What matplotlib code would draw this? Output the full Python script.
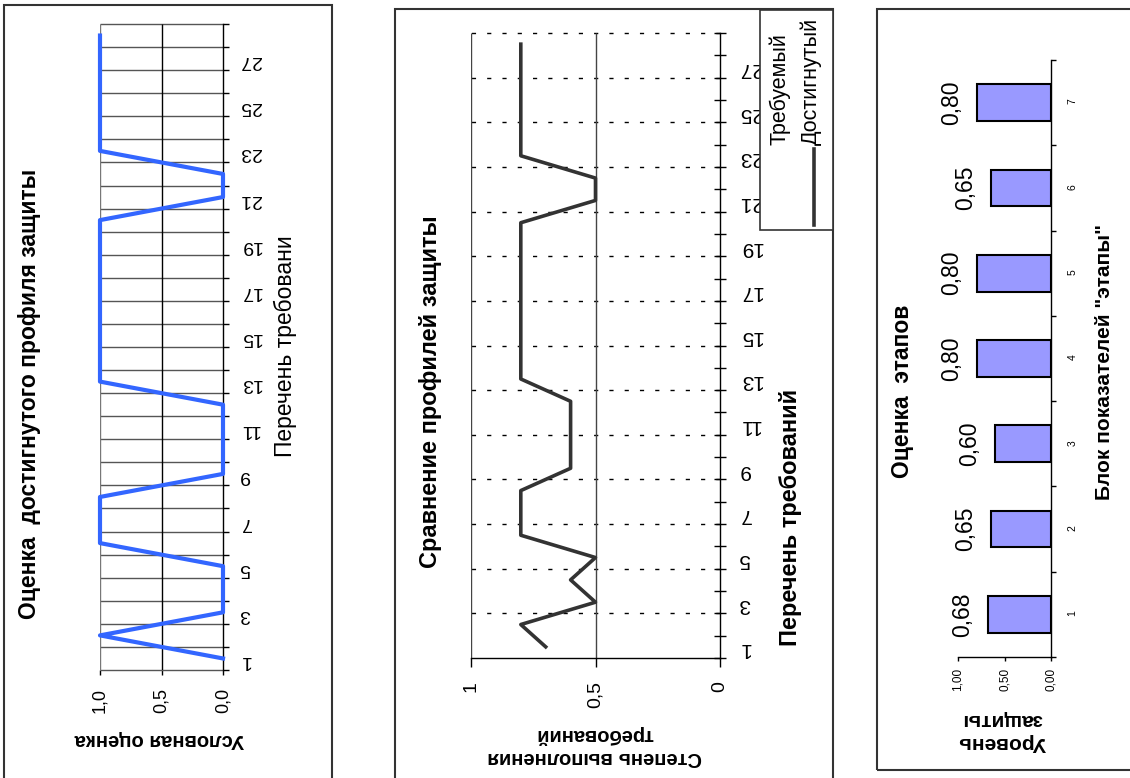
import numpy as np
import matplotlib.pyplot as plt
from matplotlib.patches import Rectangle
from matplotlib.lines import Line2D

plt.rcParams["font.family"] = ["Liberation Sans", "DejaVu Sans"]

W, H = 1130, 778

# ── Data ──────────────────────────────────────────────────────────────────
# chart 1: achieved profile, 0/1 per requirement
req_items = list(range(1, 29))
achieved_score = [0, 1, 0, 0, 0, 1, 1, 1, 0, 0, 0, 0, 1, 1,
                  1, 1, 1, 1, 1, 1, 0, 0, 1, 1, 1, 1, 1, 1]
score_ticks = [1.0, 0.5, 0.0]
score_labels = ["1,0", "0,5", "0,0"]

# chart 2: degree of fulfilment of requirements
fulfil_degree = [0.7, 0.8, 0.5, 0.6, 0.5, 0.8, 0.8, 0.8, 0.6, 0.6, 0.6, 0.6, 0.8, 0.8,
                 0.8, 0.8, 0.8, 0.8, 0.8, 0.8, 0.5, 0.5, 0.8, 0.8, 0.8, 0.8, 0.8, 0.8]
degree_ticks = [1.0, 0.5, 0.0]
degree_labels = ["1", "0,5", "0"]
legend_names = ["Требуемый", "Достигнутый"]

# chart 3: stage assessment
stages = [1, 2, 3, 4, 5, 6, 7]
stage_level = [0.68, 0.65, 0.60, 0.80, 0.80, 0.65, 0.80]
level_ticks = [1.0, 0.5, 0.0]
level_labels = ["1,00", "0,50", "0,00"]

BLUE = "#3366FF"
DARK = "#333333"
BAR = "#9999FF"


def fx(px):
    return px / W


def fy(py):
    return 1 - py / H


def box(left, top, right, bottom):
    return [fx(left), fy(bottom), (right - left) / W, (bottom - top) / H]


def frame(left, top, right, bottom):
    fig.add_artist(Rectangle((fx(left), fy(bottom)), (right - left) / W, (bottom - top) / H,
                             transform=fig.transFigure, fill=False, lw=1.5, ec=DARK))


def category_axis(ax, items, every, size, pad, tick_len, tick_dir, rot=180):
    n = len(items)
    ax.set_ylim(0.5, n + 0.5)
    ax.set_yticks(np.arange(0.5, n + 1, 1))
    ax.set_yticks(items[::every], [str(i) for i in items[::every]], minor=True)
    ax.tick_params(axis="y", which="both", left=False, labelleft=False,
                   right=True, labelright=True)
    ax.tick_params(axis="y", which="major", length=tick_len, direction=tick_dir,
                   width=1, labelright=False)
    ax.tick_params(axis="y", which="minor", length=0, pad=pad,
                   labelsize=size, labelrotation=rot)


def value_axis(ax, ticks, labels, size, pad, tick_len):
    ax.set_xlim(1, 0)
    ax.set_xticks(ticks, labels)
    ax.tick_params(axis="x", length=tick_len, direction="out", width=1, pad=pad,
                   labelsize=size, labelrotation=90)


fig = plt.figure(figsize=(W / 100, H / 100), dpi=100)

# ── Chart 1 ───────────────────────────────────────────────────────────────
frame(4, 5, 332, 800)
ax1 = fig.add_axes(box(100, 24, 223, 670))
for s in ["left", "top", "bottom"]:
    ax1.spines[s].set_visible(False)
ax1.spines["right"].set_linewidth(1)
category_axis(ax1, req_items, 2, 14, 12, 4.3, "out")
value_axis(ax1, score_ticks, score_labels, 13, 9.5, 3.6)
ax1.hlines(np.arange(0.5, len(req_items) + 1, 1), 0, 1, color="#555555", lw=1, clip_on=False)
ax1.vlines(score_ticks[:2], 0.5, len(req_items) + 0.5, colors=["#777777", "black"], lw=1)
ax1.plot(achieved_score, req_items, color=BLUE, lw=3, clip_on=False, zorder=3)

fig.text(fx(30), fy(394), "Оценка  достигнутого профиля защиты", rotation=90,
         ha="center", va="center", fontsize=16.5, fontweight="bold")
fig.text(fx(285), fy(346), "Перечень требовани", rotation=90,
         ha="center", va="center", fontsize=16.5)
fig.text(fx(159), fy(740), "Условная оценка", rotation=180,
         ha="center", va="center", fontsize=14.5, fontweight="bold")

# ── Chart 2 ───────────────────────────────────────────────────────────────
frame(395, 9, 833, 800)
ax2 = fig.add_axes(box(471, 33, 720, 658))
for s in ["left", "top"]:
    ax2.spines[s].set_visible(False)
ax2.spines["right"].set_linewidth(1)
ax2.spines["bottom"].set_linewidth(1)
category_axis(ax2, req_items, 2, 15, 13.5, 8.6, "inout")
value_axis(ax2, degree_ticks, degree_labels, 14, 10, 6.5)
ax2.hlines(np.arange(2.5, len(req_items) + 1, 2), 0, 1, color="black", lw=1,
           linestyles=(0, (3, 8)), clip_on=False)
ax2.vlines(degree_ticks[:2], 0.5, len(req_items) + 0.5, color="#444444", lw=1)
ax2.plot(fulfil_degree, req_items, color=DARK, lw=2.6, zorder=3)

fig.text(fx(430), fy(392), "Сравнение профилей защиты", rotation=90,
         ha="center", va="center", fontsize=17, fontweight="bold")
fig.text(fx(791), fy(517), "Перечень требований", rotation=90,
         ha="center", va="center", fontsize=17, fontweight="bold")
fig.text(fx(595), fy(746), "Степень выполнения\nтребований", rotation=180,
         ha="center", va="center", fontsize=14.5, fontweight="bold", linespacing=1.3)

# legend box drawn over the tick labels
fig.add_artist(Rectangle((fx(760), fy(230)), 73 / W, 220 / H, transform=fig.transFigure,
                         fc="white", ec=DARK, lw=1.2, zorder=5))
fig.text(fx(780), fy(145), legend_names[0], rotation=90, ha="center", va="bottom",
         fontsize=15.5, zorder=6)
fig.text(fx(811), fy(145), legend_names[1], rotation=90, ha="center", va="bottom",
         fontsize=15.5, zorder=6)
fig.add_artist(Line2D([fx(814), fx(814)], [fy(149), fy(225)], transform=fig.transFigure,
                      color=DARK, lw=2.6, zorder=6))

# ── Chart 3 ───────────────────────────────────────────────────────────────
frame(877, 9, 1140, 770)
ax3 = fig.add_axes(box(958, 60, 1051, 657))
for s in ["left", "top"]:
    ax3.spines[s].set_visible(False)
ax3.spines["right"].set_linewidth(1)
ax3.spines["bottom"].set_linewidth(1)
category_axis(ax3, stages, 1, 7.5, 12, 3.5, "out", rot=90)
value_axis(ax3, level_ticks, level_labels, 8.5, 5, 3)
bars = ax3.barh(stages, stage_level, height=0.43, color=BAR, edgecolor="black", lw=1.5)
ax3.bar_label(bars, labels=[f"{v:.2f}".replace(".", ",") for v in stage_level],
              padding=10, rotation=90, fontsize=16.5)

fig.text(fx(902), fy(391), "Оценка  этапов", rotation=90,
         ha="center", va="center", fontsize=16.5, fontweight="bold")
fig.text(fx(1105), fy(362), "Блок показателей \"этапы\"", rotation=90,
         ha="center", va="center", fontsize=15, fontweight="bold")
fig.text(fx(1002), fy(731), "Уровень\nзащиты", rotation=180,
         ha="center", va="center", fontsize=15, fontweight="bold", linespacing=1.3)

fig.savefig("out.png", dpi=100)
plt.close()
